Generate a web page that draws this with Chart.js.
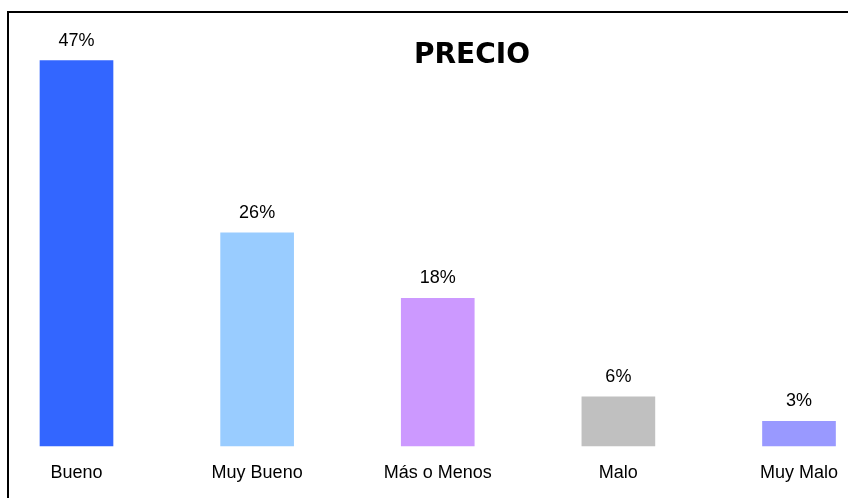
<!DOCTYPE html>
<html>
<head>
<meta charset="utf-8">
<script src="https://cdn.jsdelivr.net/npm/chart.js@4.4.1/dist/chart.umd.min.js"></script>
<style>
  html, body { margin: 0; padding: 0; background: #fff; }
  #wrap { width: 848px; height: 498px; position: relative; }
</style>
</head>
<body>
<div id="wrap"><canvas id="c" width="848" height="498"></canvas></div>
<script>
// Ratings for "PRECIO" (percent of answers)
const categories = ['Bueno', 'Muy Bueno', 'Más o Menos', 'Malo', 'Muy Malo'];
const values = [47, 26, 18, 6, 3];
const barColors = ['#3366FF', '#99CCFF', '#CC99FF', '#C0C0C0', '#9999FF'];
const titleText = 'PRECIO';

// Frame around the chart and the heading
const framePlugin = {
  id: 'frame',
  beforeDraw(chart) {
    const ctx = chart.ctx;
    ctx.save();
    ctx.fillStyle = '#ffffff';
    ctx.fillRect(0, 0, chart.width, chart.height);
    ctx.fillStyle = '#000000';
    ctx.fillRect(7, 11, chart.width - 7, 2);
    ctx.fillRect(7, 11, 2, chart.height - 11);
    ctx.restore();
  },
  afterDraw(chart) {
    const ctx = chart.ctx;
    ctx.save();
    ctx.fillStyle = '#000000';
    ctx.font = 'bold 28px "DejaVu Sans"';
    ctx.textAlign = 'center';
    ctx.textBaseline = 'alphabetic';
    ctx.fillText(titleText, 472, 63);
    ctx.restore();
  }
};

// Percentage written above each bar
const valueLabels = {
  id: 'valueLabels',
  afterDatasetsDraw(chart) {
    const ctx = chart.ctx;
    const meta = chart.getDatasetMeta(0);
    ctx.save();
    ctx.fillStyle = '#000000';
    ctx.font = '18px "Liberation Sans", Arial, sans-serif';
    ctx.textAlign = 'center';
    ctx.textBaseline = 'alphabetic';
    meta.data.forEach((bar, i) => {
      ctx.fillText(values[i] + '%', bar.x, bar.y - 15);
    });
    ctx.restore();
  }
};

new Chart(document.getElementById('c'), {
  type: 'bar',
  data: {
    labels: categories,
    datasets: [{
      data: values,
      backgroundColor: barColors,
      borderWidth: 0,
      barThickness: 73,
      clip: false
    }]
  },
  options: {
    responsive: false,
    animation: false,
    layout: { padding: { top: 36, left: 76.5, right: 49, bottom: 0 } },
    plugins: {
      legend: { display: false },
      title: { display: false },
      tooltip: { enabled: false }
    },
    scales: {
      x: {
        offset: false,
        grid: { display: false, drawTicks: false },
        border: { display: false },
        ticks: {
          color: '#000000',
          padding: 16,
          maxRotation: 0,
          autoSkip: false,
          font: { family: '"Liberation Sans", Arial, sans-serif', size: 18 }
        },
        afterFit(scale) {
          scale.height = 52;
          scale.paddingLeft = 0;
          scale.paddingRight = 0;
        }
      },
      y: {
        display: false,
        min: 0,
        max: 50
      }
    }
  },
  plugins: [framePlugin, valueLabels]
});
</script>
</body>
</html>
